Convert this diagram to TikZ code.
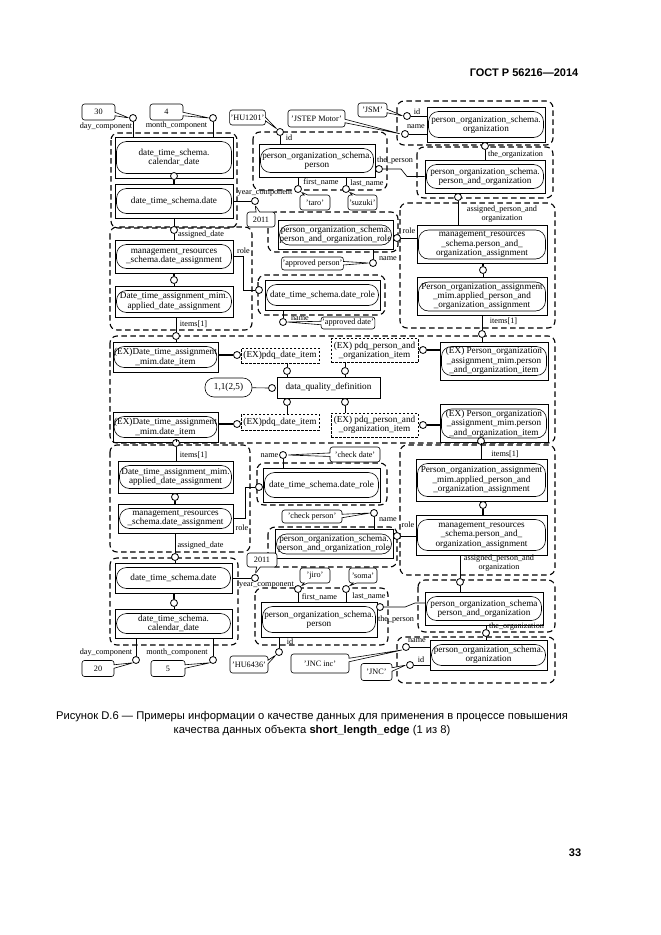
\documentclass[tikz,border=0pt]{standalone}
\usepackage{fontspec}
\setmainfont{Liberation Serif}
\newfontfamily\hdfont{Liberation Sans}
\usetikzlibrary{shapes.callouts}

% entity: outer box and inner rounded box
\newcommand\ent[6]{%
  \pgfmathsetmacro\entw{#4-3}\pgfmathsetmacro\enth{#5-9}\pgfmathsetmacro\entr{min(10,(#5-9)/2)}%
  \node[ent, minimum width=#4pt, minimum height=#5pt] (#1) at (#2,#3) {};
  \node[entin, minimum width=\entw pt, minimum height=\enth pt, rounded corners=\entr pt] (#1in) at (#1.center) {#6};}

\begin{document}
\begin{tikzpicture}[x=1pt,y=-1pt,line width=0.65pt,
    grp/.style={draw, dash pattern=on 5.5pt off 3.5pt, line width=1.1pt, rounded corners=7pt},
    ent/.style={draw, rectangle, line width=0.9pt, inner sep=0pt},
    entin/.style={draw, line width=0.6pt, inner sep=0pt, align=center, font=\fontsize{9.2}{9.4}\selectfont},
    pdq/.style={draw, dash pattern=on 2.5pt off 1.5pt, line width=0.6pt, inner sep=1pt, align=center, font=\fontsize{9.2}{9.4}\selectfont},
    cir/.style={draw, circle, fill=white, minimum size=7pt, inner sep=0pt, line width=0.8pt},
    val/.style={draw, fill=white, rectangle callout, rounded corners=2.5pt, callout pointer width=3.5pt, inner sep=1pt, line width=0.6pt, font=\fontsize{8.2}{9}\selectfont},
    lbl/.style={inner sep=0pt, align=center, font=\fontsize{8.2}{8.6}\selectfont},
    sub/.style={line width=1.8pt}]
    \useasboundingbox (0,0) rectangle (661,935);

    % header, caption, page
    \node[anchor=east, font=\hdfont\bfseries\fontsize{11}{13}\selectfont] (hdr) at (582,73) {ГОСТ Р 56216—2014};
    \node[align=center, font=\hdfont\fontsize{11.2}{14}\selectfont] (cap) at (312,724) {Рисунок D.6 — Примеры информации о качестве данных для применения в процессе повышения\\качества данных объекта \textbf{short\_length\_edge} (1 из 8)};
    \node[font=\hdfont\bfseries\fontsize{11}{13}\selectfont] (pg) at (575,853) {33};

    % groups
    \foreach \a/\b/\c/\d in {111/133/237/228, 397/101/553/145, 253/132/387/190, 417/147/553/198,
        268/212/398/252, 110/227/252/330, 258/275/385/315, 400/203/555/328, 110/336/555/443,
        110/445/250/552, 257/463/387/505, 268/527/397/567, 400/445/555/575, 110/558/238/645,
        255/588/388/645, 418/580/555/632, 397/637/555/683}
        \draw[grp] (\a,\b) rectangle (\c,\d);

    % entities
    \ent{cal1}{174}{157.5}{118}{41}{date\_time\_schema.\\calendar\_date}
    \ent{date1}{174}{201}{118}{34}{date\_time\_schema.date}
    \ent{per1}{317}{160.5}{116}{33}{person\_organization\_schema.\\person}
    \ent{org1}{486}{124.5}{118}{35}{person\_organization\_schema.\\organization}
    \ent{po1}{485}{176.5}{120}{33}{person\_organization\_schema.\\person\_and\_organization}
    \ent{porole1}{335.5}{235}{115}{29}{person\_organization\_schema.\\person\_and\_organization\_role}
    \ent{da1}{174}{256.5}{118}{33}{management\_resources\\\_schema.date\_assignment}
    \ent{ada1}{174}{301.5}{118}{31}{Date\_time\_assignment\_mim.\\applied\_date\_assignment}
    \ent{drole1}{322.5}{295}{115}{30}{date\_time\_schema.date\_role}
    \ent{pa1}{482}{244.5}{130}{38}{management\_resources\\\_schema.person\_and\_\\organization\_assignment}
    \ent{apa1}{482}{296.5}{130}{38}{Person\_organization\_assignment\\\_mim.applied\_person\_and\\\_organization\_assignment}
    \ent{exd1}{165.5}{357}{105}{30}{(EX)Date\_time\_assignment\\\_mim.date\_item}
    \ent{exp1}{494}{361}{108}{38}{(EX) Person\_organization\\\_assignment\_mim.person\\\_and\_organization\_item}
    \ent{exd2}{165.5}{427}{105}{30}{(EX)Date\_time\_assignment\\\_mim.date\_item}
    \ent{exp2}{494}{423.5}{108}{38}{(EX) Person\_organization\\\_assignment\_mim.person\\\_and\_organization\_item}
    \ent{ada2}{175.5}{477}{115}{32}{Date\_time\_assignment\_mim.\\applied\_date\_assignment}
    \ent{da2}{175.5}{518.5}{115}{29}{management\_resources\\\_schema.date\_assignment}
    \ent{drole2}{321.5}{485}{117}{34}{date\_time\_schema.date\_role}
    \ent{porole2}{334}{544}{118}{29}{person\_organization\_schema.\\person\_and\_organization\_role}
    \ent{apa2}{481.5}{480}{131}{42}{Person\_organization\_assignment\\\_mim.applied\_person\_and\\\_organization\_assignment}
    \ent{pa2}{481.5}{535}{131}{40}{management\_resources\\\_schema.person\_and\_\\organization\_assignment}
    \ent{date2}{173.5}{578}{117}{30}{date\_time\_schema.date}
    \ent{cal2}{173.5}{623.5}{117}{29}{date\_time\_schema.\\calendar\_date}
    \ent{per2}{319}{619.5}{116}{35}{person\_organization\_schema.\\person}
    \ent{po2}{484}{608.5}{118}{33}{person\_organization\_schema\\person\_and\_organization}
    \ent{org2}{488.5}{655}{117}{30}{person\_organization\_schema.\\organization}

    % middle part
    \node[pdq, minimum width=78pt, minimum height=15pt] (pdqd1) at (280,355.5) {(EX)pdq\_date\_item};
    \node[pdq, minimum width=87pt, minimum height=24pt] (pdqp1) at (374.5,350.5) {(EX) pdq\_person\_and\\\_organization\_item};
    \node[pdq, minimum width=78pt, minimum height=16pt] (pdqd2) at (280,422) {(EX)pdq\_date\_item};
    \node[pdq, minimum width=87pt, minimum height=24pt] (pdqp2) at (374.5,425) {(EX) pdq\_person\_and\\\_organization\_item};
    \node[draw, line width=0.9pt, minimum width=103pt, minimum height=21pt, font=\fontsize{9.2}{9.4}\selectfont] (dqd) at (328.5,387.5) {data\_quality\_definition};
    \node[draw, line width=0.6pt, rounded corners=9pt, minimum width=47pt, minimum height=19pt, inner sep=0pt, font=\fontsize{9.2}{9.4}\selectfont] (val) at (228.5,387.5) {1,1(2,5)};

    % circles
    \foreach \n/\x/\y in {cday1/133/118, cmon1/213/118, csub1/174/176, cyr1/255/201, cad1/174/230,
        cid1/280/132, cid2/407/116, cnm2/405/134, corg1/485/146, cpo1/458/197, ctp1/379/169,
        cfn1/298/189, cln1/346/189, crl1/397/238, cnm1/373/263, cdr1/259/290, cdn1/283/322,
        csub2/174/280, csub3/483/270, cit1/176/336, cit2/482/334, cx1/237/355, cx2/423/350,
        cdq1/287/371, cdq2/345/371, cval/272/388, cdq3/287/402, cdq4/345/402, cx3/237/424,
        cx4/423/425, cit3/176/443, cit4/481/441, csub4/175/497, csub5/483/505, cdr2/259/487,
        cdn2/283/455, cnm4/374/513, crl2/397/536, cad2/175/557, cpo2/460/582, cyr2/255/578,
        csub6/174/603, cfn2/298/589, cln2/346/589, ctp2/380/607, corg2/486/633, cid3/279/652,
        cnm3/406/647, cid4/410/665, cday2/136/660, cmon2/213/660}
        \node[cir] (\n) at (\x,\y) {};

    % values
    \foreach \n/\x/\y/\w/\h/\t/\p in {v30/98.5/112/33/16/30/cday1.west, v4/166.5/112/33/16/4/cmon1.west,
        vhu1/247.5/117.5/35/15/'HU1201'/cid1.north west, vjstep/316.5/118.5/57/17/'JSTEP Motor'/cnm2.west,
        vjsm/372.5/110/29/14/'JSM'/cid2.west, vtaro/315/202.5/30/15/'taro'/cfn1.south east,
        vsuz/362.5/202.5/29/15/'suzuki'/cln1.south east, v2011a/261/219.5/28/15/2011/cyr1.south,
        vapp/312.5/263.5/59/13/'approved person'/cnm1.west, vappd/348/323/50/12/'approved date'/cdn1.east,
        vchd/355/454.5/50/15/'check date'/cdn2.east, vchp/312/516.5/60/13/'check person'/cnm4.west,
        v2011b/262/560/30/14/2011/cyr2.north, vjiro/315/575.5/30/15/'jiro'/cfn2.north east,
        vsoma/363/575.5/28/15/'soma'/cln2.north east, vhu2/249/664.5/38/17/'HU6436'/cid3.south west,
        vjncinc/320/663.5/58/19/'JNC inc'/cnm3.south west, vjnc/376.5/672/31/17/'JNC'/cid4.west,
        v20/98/668.5/32/16/20/cday2.south west, v5/168/668.5/34/16/5/cmon2.south west}
        \node[val, minimum width=\w pt, minimum height=\h pt, callout absolute pointer={(\p)}] (\n) at (\x,\y) {\t};

    % attribute names
    \foreach \x/\y/\t [count=\i] in {106/127/day\_component, 176.5/126/month\_component, 289/138/id,
        417/112/id, 416/127/name, 395/161/the\_person, 321/182/first\_name, 367/183/last\_name,
        265/193/year\_component, 201/235/assigned\_date, 243.5/251/role, 409/231/role, 388/259/name,
        515.5/155/the\_organization, 502/214/{assigned\_person\_and\\organization}, 300/319/name,
        193.5/324/{items[1]}, 503.5/321/{items[1]}, 193.5/455/{items[1]}, 505/454/{items[1]},
        269.5/456/name, 242/528/role, 388/520/name, 408/525/role, 200.5/546/assigned\_date,
        499/563/{assigned\_person\_and\\organization}, 266.5/585/year\_component, 319.5/597/first\_name,
        369/596/last\_name, 396/620/the\_person, 516.5/627/the\_organization, 290/642/id,
        417/641/name, 421/660/id, 106/653/day\_component, 177/653/month\_component}
        \node[lbl] (lab\i) at (\x,\y) {\t};

    % top connectors
    \draw (cday1) -- (cday1 |- cal1.north);
    \draw (cmon1) -- (cmon1 |- cal1.north);
    \draw[sub] (csub1) -- (csub1 |- date1.north);
    \draw (date1.east) -- (cyr1);
    \draw (cad1 |- date1.south) -- (cad1) -- (cad1 |- da1.north);
    \draw (cid1) -- (cid1 |- per1.north);
    \draw (cid2) -- (org1.west |- cid2);
    \draw (cnm2) -- (org1.west |- cnm2);
    \draw (corg1 |- org1.south) -- (corg1) -- (corg1 |- po1.north);
    \draw (cpo1 |- po1.south) -- (cpo1) -- (cpo1 |- pa1.north);
    \draw (ctp1) -- ++(22,0) -- ++(6,7.5) -- (po1.west);
    \draw (cfn1 |- per1.south) -- (cfn1);
    \draw (cln1 |- per1.south) -- (cln1);
    \draw (crl1) -- (pa1.west |- crl1);
    \draw (cnm1 |- porole1.south) -- (cnm1);
    \draw (da1.east) -- ++(10,0) |- (cdr1);
    \draw (cdn1 |- drole1.south) -- (cdn1);
    \draw[sub] (csub2 |- da1.south) -- (csub2);
    \draw (csub2) -- (csub2 |- ada1.north);
    \draw[sub] (csub3 |- pa1.south) -- (csub3);
    \draw (csub3) -- (csub3 |- apa1.north);
    \draw (cit1 |- ada1.south) -- (cit1) -- (cit1 |- exd1.north);
    \draw (cit2 |- apa1.south) -- (cit2) -- (cit2 |- exp1.north);

    % middle connectors
    \draw[sub] (exd1.east |- cx1) -- (cx1);
    \draw[sub] (cx2) -- (exp1.west |- cx2);
    \draw (cdq1 |- pdqd1.south) -- (cdq1) -- (cdq1 |- dqd.north);
    \draw (cdq2 |- pdqp1.south) -- (cdq2) -- (cdq2 |- dqd.north);
    \draw (val) -- (cval);
    \draw (cdq3 |- dqd.south) -- (cdq3) -- (cdq3 |- pdqd2.north);
    \draw (cdq4 |- dqd.south) -- (cdq4) -- (cdq4 |- pdqp2.north);
    \draw[sub] (exd2.east |- cx3) -- (cx3);
    \draw[sub] (cx4) -- (exp2.west |- cx4);

    % bottom connectors
    \draw (cit3 |- exd2.south) -- (cit3) -- (cit3 |- ada2.north);
    \draw (cit4 |- exp2.south) -- (cit4) -- (cit4 |- apa2.north);
    \draw (csub4 |- ada2.south) -- (csub4);
    \draw[sub] (csub4) -- (csub4 |- da2.north);
    \draw (csub5 |- apa2.south) -- (csub5);
    \draw[sub] (csub5) -- (csub5 |- pa2.north);
    \draw (da2.east) -- ++(12,0) |- (cdr2);
    \draw (cdn2) -- (cdn2 |- drole2.north);
    \draw (cnm4) -- (cnm4 |- porole2.north);
    \draw (crl2) -- (pa2.west |- crl2);
    \draw (cad2 |- da2.south) -- (cad2) -- (cad2 |- date2.north);
    \draw (cpo2 |- pa2.south) -- (cpo2) -- (cpo2 |- po2.north);
    \draw (date2.east) -- (cyr2);
    \draw[sub] (csub6 |- date2.south) -- (csub6);
    \draw (csub6) -- (csub6 |- cal2.north);
    \draw (cfn2) -- (cfn2 |- per2.north);
    \draw (cln2) -- (cln2 |- per2.north);
    \draw (ctp2) -- ++(25,0) -- ++(10,-4) -- ++(10,0);
    \draw (corg2 |- po2.south) -- (corg2) -- (corg2 |- org2.north);
    \draw (cid3) -- (cid3 |- per2.south);
    \draw (cnm3) -- (org2.west |- cnm3);
    \draw (cid4) -- (org2.west |- cid4);
    \draw (cday2 |- cal2.south) -- (cday2);
    \draw (cmon2 |- cal2.south) -- (cmon2);
\end{tikzpicture}
\end{document}
